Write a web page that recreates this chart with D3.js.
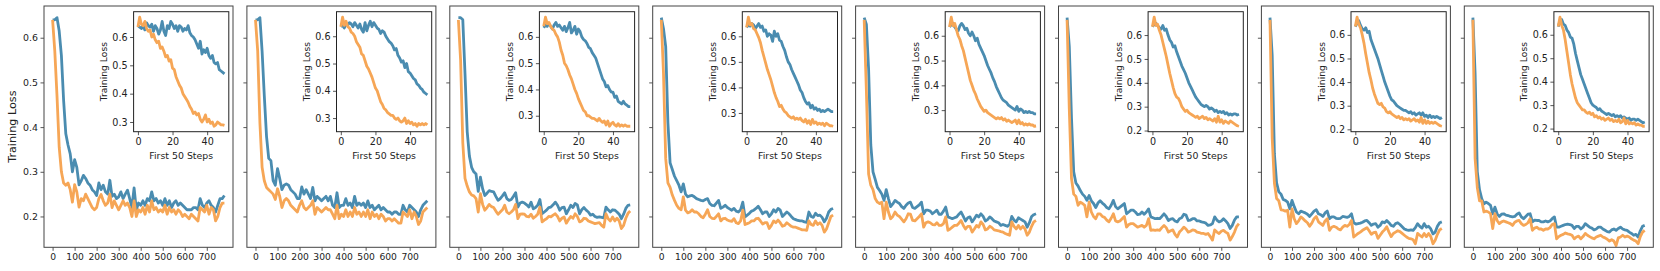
<!DOCTYPE html>
<html>
<head>
<meta charset="utf-8">
<script src="https://cdn.jsdelivr.net/npm/d3@7"></script>
<style>
  body { margin: 0; background: #fff; }
  text { font-family: "DejaVu Sans", sans-serif; fill: #222; }
</style>
</head>
<body>
<div id="chart"></div>
<script>
// logged every 10 steps, 0..780
var mainSteps = d3.range(0, 781, 10);
// first 50 steps, every step
var insetSteps = d3.range(0, 51);

var mainBlue1 = [0.64,0.64,0.645,0.615,0.56,0.46,0.385,0.36,0.34,0.30,
  0.327,0.31,0.271,0.28,0.292,0.285,0.275,0.27,0.26,0.255,
  0.247,0.275,0.26,0.27,0.255,0.25,0.281,0.245,0.25,0.24,
  0.244,0.255,0.24,0.25,0.259,0.24,0.22,0.264,0.215,0.23,
  0.225,0.235,0.225,0.24,0.235,0.255,0.235,0.24,0.23,0.235,
  0.225,0.24,0.225,0.235,0.22,0.23,0.235,0.225,0.23,0.225,
  0.22,0.215,0.215,0.215,0.22,0.22,0.215,0.24,0.225,0.22,
  0.23,0.235,0.225,0.22,0.21,0.225,0.24,0.24,0.247];
var mainOrange1 = [0.64,0.57,0.47,0.355,0.30,0.275,0.27,0.275,0.26,0.232,
  0.271,0.255,0.221,0.24,0.235,0.25,0.24,0.23,0.22,0.215,
  0.22,0.24,0.249,0.235,0.225,0.23,0.25,0.22,0.235,0.225,
  0.215,0.225,0.235,0.225,0.23,0.22,0.2,0.235,0.2,0.215,
  0.21,0.22,0.205,0.225,0.21,0.235,0.215,0.22,0.21,0.215,
  0.21,0.225,0.205,0.22,0.21,0.215,0.205,0.215,0.21,0.2,
  0.205,0.2,0.195,0.205,0.2,0.195,0.19,0.22,0.215,0.21,
  0.225,0.205,0.22,0.215,0.19,0.2,0.22,0.23,0.23];

var mainBlue2 = [0.64,0.64,0.645,0.57,0.47,0.38,0.33,0.325,0.28,0.27,
  0.307,0.285,0.26,0.27,0.273,0.27,0.26,0.255,0.25,0.24,
  0.24,0.266,0.25,0.26,0.25,0.24,0.265,0.235,0.245,0.24,
  0.235,0.24,0.245,0.235,0.245,0.225,0.22,0.253,0.22,0.225,
  0.225,0.24,0.225,0.23,0.22,0.245,0.225,0.23,0.225,0.23,
  0.22,0.235,0.22,0.225,0.215,0.22,0.225,0.215,0.22,0.215,
  0.21,0.21,0.205,0.21,0.21,0.205,0.205,0.225,0.215,0.21,
  0.225,0.22,0.215,0.21,0.2,0.215,0.225,0.23,0.235];
var mainOrange2 = [0.64,0.57,0.41,0.31,0.28,0.265,0.26,0.255,0.25,0.238,
  0.262,0.245,0.22,0.235,0.24,0.235,0.225,0.22,0.215,0.21,
  0.225,0.235,0.22,0.215,0.22,0.225,0.235,0.205,0.22,0.215,
  0.21,0.215,0.22,0.215,0.215,0.205,0.195,0.225,0.195,0.205,
  0.2,0.215,0.2,0.21,0.2,0.22,0.205,0.21,0.2,0.21,
  0.2,0.215,0.195,0.21,0.2,0.205,0.195,0.205,0.2,0.19,
  0.195,0.195,0.19,0.195,0.19,0.185,0.185,0.21,0.205,0.2,
  0.215,0.195,0.21,0.2,0.182,0.19,0.21,0.215,0.22];

var mainBlue3 = [0.645,0.645,0.64,0.52,0.39,0.335,0.31,0.30,0.295,0.256,
  0.288,0.262,0.247,0.252,0.258,0.256,0.255,0.245,0.236,0.24,
  0.246,0.253,0.24,0.236,0.238,0.245,0.253,0.221,0.23,0.232,
  0.23,0.226,0.221,0.232,0.217,0.22,0.225,0.238,0.206,0.21,
  0.214,0.22,0.221,0.226,0.232,0.225,0.214,0.22,0.221,0.206,
  0.215,0.225,0.22,0.229,0.226,0.206,0.215,0.22,0.214,0.21,
  0.203,0.205,0.2,0.198,0.199,0.198,0.197,0.221,0.215,0.21,
  0.215,0.214,0.21,0.205,0.195,0.205,0.218,0.225,0.226];
var mainOrange3 = [0.64,0.55,0.365,0.285,0.268,0.255,0.248,0.246,0.24,0.21,
  0.251,0.227,0.214,0.22,0.227,0.222,0.22,0.212,0.205,0.21,
  0.215,0.225,0.21,0.206,0.21,0.215,0.227,0.195,0.205,0.206,
  0.205,0.2,0.199,0.205,0.196,0.2,0.205,0.221,0.188,0.192,
  0.195,0.2,0.199,0.203,0.206,0.2,0.19,0.196,0.199,0.185,
  0.193,0.2,0.196,0.206,0.2,0.188,0.19,0.196,0.195,0.19,
  0.188,0.186,0.184,0.185,0.186,0.18,0.176,0.206,0.195,0.19,
  0.199,0.19,0.196,0.19,0.173,0.18,0.196,0.207,0.212];

var mainBlue4 = [0.645,0.62,0.58,0.41,0.32,0.305,0.29,0.28,0.27,0.255,
  0.273,0.25,0.244,0.246,0.247,0.244,0.24,0.238,0.236,0.235,
  0.238,0.24,0.229,0.225,0.224,0.23,0.236,0.218,0.221,0.225,
  0.22,0.217,0.214,0.218,0.212,0.21,0.215,0.232,0.199,0.203,
  0.207,0.212,0.214,0.218,0.223,0.215,0.206,0.21,0.21,0.2,
  0.206,0.215,0.21,0.218,0.214,0.2,0.205,0.21,0.206,0.2,
  0.195,0.193,0.191,0.19,0.19,0.188,0.187,0.21,0.2,0.198,
  0.207,0.202,0.203,0.198,0.188,0.196,0.21,0.216,0.218];
var mainOrange4 = [0.64,0.52,0.33,0.275,0.265,0.248,0.236,0.225,0.218,0.215,
  0.244,0.214,0.208,0.21,0.215,0.21,0.21,0.206,0.2,0.197,
  0.205,0.215,0.2,0.196,0.195,0.2,0.206,0.19,0.195,0.196,
  0.192,0.19,0.189,0.195,0.186,0.184,0.19,0.214,0.182,0.184,
  0.186,0.19,0.19,0.195,0.196,0.19,0.183,0.186,0.186,0.173,
  0.18,0.19,0.186,0.192,0.186,0.178,0.18,0.186,0.182,0.178,
  0.176,0.176,0.174,0.172,0.17,0.17,0.169,0.19,0.182,0.18,
  0.19,0.182,0.186,0.18,0.165,0.172,0.186,0.2,0.203];

var mainBlue5 = [0.645,0.63,0.53,0.36,0.30,0.283,0.265,0.258,0.25,0.236,
  0.26,0.24,0.222,0.228,0.236,0.232,0.229,0.222,0.218,0.225,
  0.23,0.232,0.22,0.218,0.222,0.226,0.232,0.206,0.214,0.214,
  0.212,0.206,0.21,0.214,0.205,0.205,0.212,0.221,0.199,0.197,
  0.195,0.197,0.199,0.205,0.21,0.2,0.19,0.197,0.199,0.188,
  0.195,0.203,0.199,0.206,0.2,0.19,0.193,0.199,0.195,0.19,
  0.188,0.186,0.18,0.182,0.18,0.178,0.182,0.2,0.192,0.188,
  0.197,0.194,0.191,0.188,0.176,0.186,0.2,0.204,0.206];
var mainOrange5 = [0.64,0.48,0.295,0.27,0.26,0.24,0.232,0.229,0.232,0.195,
  0.232,0.21,0.195,0.2,0.21,0.203,0.2,0.194,0.188,0.195,
  0.206,0.205,0.191,0.19,0.195,0.2,0.206,0.176,0.186,0.188,
  0.186,0.182,0.181,0.186,0.18,0.18,0.184,0.199,0.169,0.172,
  0.176,0.18,0.18,0.185,0.191,0.18,0.172,0.178,0.178,0.165,
  0.172,0.18,0.176,0.188,0.182,0.17,0.172,0.178,0.175,0.17,
  0.169,0.168,0.166,0.165,0.162,0.16,0.158,0.188,0.178,0.172,
  0.18,0.172,0.178,0.172,0.158,0.165,0.178,0.188,0.191];

var mainBlue6 = [0.645,0.58,0.42,0.30,0.275,0.268,0.258,0.25,0.245,0.236,
  0.247,0.235,0.229,0.22,0.23,0.235,0.23,0.226,0.22,0.217,
  0.225,0.236,0.222,0.217,0.221,0.225,0.229,0.206,0.21,0.214,
  0.214,0.21,0.204,0.205,0.21,0.205,0.21,0.217,0.199,0.197,
  0.195,0.196,0.195,0.2,0.206,0.2,0.191,0.194,0.195,0.19,
  0.188,0.195,0.197,0.205,0.203,0.191,0.192,0.195,0.195,0.19,
  0.19,0.188,0.187,0.185,0.18,0.181,0.184,0.199,0.192,0.188,
  0.19,0.195,0.19,0.184,0.173,0.18,0.192,0.199,0.199];
var mainOrange6 = [0.64,0.44,0.285,0.25,0.245,0.225,0.232,0.229,0.225,0.199,
  0.232,0.21,0.2,0.195,0.206,0.206,0.2,0.198,0.192,0.188,
  0.196,0.206,0.19,0.188,0.19,0.195,0.2,0.176,0.182,0.184,
  0.184,0.18,0.176,0.178,0.18,0.176,0.18,0.195,0.169,0.17,
  0.169,0.17,0.169,0.175,0.18,0.175,0.165,0.168,0.17,0.16,
  0.154,0.165,0.17,0.176,0.172,0.165,0.167,0.17,0.169,0.165,
  0.164,0.162,0.162,0.16,0.162,0.155,0.147,0.17,0.165,0.162,
  0.167,0.169,0.165,0.162,0.147,0.155,0.165,0.178,0.184];

var mainBlue7 = [0.645,0.56,0.34,0.275,0.255,0.25,0.238,0.236,0.232,0.217,
  0.236,0.222,0.21,0.206,0.212,0.21,0.208,0.205,0.2,0.206,
  0.212,0.215,0.206,0.204,0.2,0.208,0.212,0.195,0.199,0.199,
  0.196,0.195,0.196,0.2,0.199,0.198,0.2,0.206,0.186,0.183,
  0.184,0.185,0.187,0.19,0.191,0.186,0.18,0.183,0.184,0.176,
  0.18,0.188,0.186,0.191,0.186,0.18,0.178,0.184,0.186,0.182,
  0.177,0.172,0.17,0.169,0.17,0.169,0.175,0.184,0.178,0.174,
  0.184,0.176,0.178,0.172,0.161,0.165,0.178,0.186,0.188];
var mainOrange7 = [0.64,0.375,0.275,0.24,0.235,0.215,0.214,0.212,0.214,0.176,
  0.217,0.195,0.184,0.19,0.199,0.195,0.19,0.186,0.178,0.185,
  0.195,0.2,0.188,0.184,0.18,0.19,0.195,0.169,0.176,0.178,
  0.176,0.172,0.17,0.176,0.18,0.178,0.182,0.191,0.154,0.158,
  0.162,0.165,0.169,0.172,0.175,0.168,0.16,0.164,0.165,0.151,
  0.158,0.165,0.17,0.177,0.165,0.155,0.162,0.165,0.168,0.166,
  0.162,0.158,0.154,0.151,0.15,0.148,0.139,0.162,0.158,0.154,
  0.162,0.155,0.162,0.155,0.139,0.147,0.16,0.17,0.173];

var mainBlue8 = [0.645,0.52,0.30,0.26,0.24,0.228,0.232,0.229,0.225,0.206,
  0.221,0.206,0.2,0.205,0.206,0.203,0.202,0.2,0.199,0.2,
  0.205,0.208,0.199,0.195,0.2,0.205,0.206,0.188,0.192,0.191,
  0.191,0.188,0.188,0.19,0.188,0.19,0.195,0.199,0.176,0.176,
  0.178,0.18,0.182,0.183,0.182,0.18,0.173,0.178,0.178,0.172,
  0.176,0.184,0.18,0.176,0.174,0.17,0.172,0.176,0.176,0.172,
  0.169,0.166,0.165,0.17,0.172,0.169,0.173,0.176,0.172,0.17,
  0.169,0.165,0.162,0.158,0.16,0.154,0.168,0.178,0.18];
var mainOrange8 = [0.64,0.33,0.265,0.235,0.235,0.21,0.212,0.21,0.206,0.173,
  0.206,0.191,0.184,0.188,0.19,0.188,0.186,0.184,0.18,0.187,
  0.19,0.191,0.184,0.18,0.182,0.186,0.195,0.169,0.174,0.176,
  0.172,0.172,0.169,0.172,0.172,0.175,0.182,0.184,0.15,0.155,
  0.158,0.16,0.163,0.161,0.16,0.158,0.15,0.154,0.156,0.15,
  0.155,0.162,0.158,0.155,0.152,0.15,0.154,0.156,0.158,0.154,
  0.152,0.149,0.145,0.148,0.145,0.135,0.152,0.154,0.158,0.154,
  0.156,0.154,0.15,0.147,0.145,0.139,0.155,0.165,0.169];

var insetBlue1 = [0.64,0.635,0.63,0.64,0.625,0.65,0.64,0.635,0.645,0.62,
  0.64,0.63,0.61,0.625,0.655,0.62,0.605,0.64,0.63,0.655,
  0.645,0.63,0.64,0.62,0.64,0.635,0.62,0.63,0.625,0.64,
  0.615,0.605,0.6,0.59,0.575,0.56,0.585,0.54,0.555,0.545,
  0.56,0.535,0.525,0.535,0.51,0.505,0.51,0.485,0.48,0.475,0.47];
var insetOrange1 = [0.635,0.67,0.645,0.64,0.655,0.63,0.62,0.625,0.6,0.61,
  0.59,0.58,0.585,0.56,0.565,0.55,0.53,0.535,0.515,0.52,
  0.49,0.485,0.46,0.445,0.43,0.42,0.4,0.39,0.38,0.37,
  0.355,0.345,0.33,0.335,0.325,0.33,0.31,0.3,0.31,0.325,
  0.3,0.31,0.295,0.3,0.285,0.29,0.3,0.295,0.29,0.29,0.288];

var insetBlue2 = [0.635,0.64,0.63,0.645,0.64,0.65,0.645,0.635,0.65,0.64,
  0.63,0.645,0.625,0.615,0.65,0.62,0.64,0.655,0.635,0.65,
  0.64,0.63,0.625,0.61,0.62,0.615,0.6,0.59,0.58,0.575,
  0.565,0.55,0.555,0.53,0.52,0.505,0.51,0.485,0.5,0.47,
  0.465,0.455,0.445,0.44,0.425,0.42,0.41,0.405,0.395,0.39,0.385];
var insetOrange2 = [0.635,0.67,0.64,0.655,0.635,0.63,0.615,0.61,0.6,0.58,
  0.57,0.56,0.535,0.53,0.51,0.49,0.48,0.465,0.45,0.43,
  0.41,0.4,0.38,0.36,0.35,0.335,0.33,0.32,0.315,0.31,
  0.31,0.3,0.295,0.3,0.29,0.285,0.29,0.3,0.28,0.29,
  0.28,0.285,0.275,0.28,0.27,0.28,0.275,0.28,0.275,0.28,0.275];

var insetBlue3 = [0.635,0.645,0.64,0.65,0.64,0.63,0.645,0.655,0.64,0.645,
  0.635,0.625,0.64,0.62,0.635,0.655,0.615,0.625,0.64,0.61,
  0.63,0.62,0.6,0.59,0.585,0.575,0.56,0.555,0.54,0.53,
  0.52,0.5,0.48,0.46,0.44,0.43,0.41,0.415,0.4,0.39,
  0.39,0.37,0.375,0.355,0.35,0.345,0.355,0.345,0.34,0.335,0.335];
var insetOrange3 = [0.64,0.675,0.65,0.655,0.64,0.63,0.625,0.61,0.6,0.58,
  0.55,0.53,0.5,0.49,0.475,0.455,0.44,0.42,0.4,0.385,
  0.365,0.35,0.335,0.32,0.315,0.3,0.3,0.295,0.29,0.29,
  0.285,0.28,0.29,0.28,0.275,0.28,0.265,0.28,0.26,0.27,
  0.275,0.265,0.26,0.27,0.26,0.265,0.26,0.265,0.26,0.26,0.26];

var insetBlue4 = [0.635,0.645,0.64,0.65,0.645,0.63,0.64,0.65,0.635,0.64,
  0.62,0.625,0.6,0.61,0.605,0.58,0.62,0.6,0.61,0.585,
  0.58,0.56,0.545,0.52,0.5,0.49,0.47,0.455,0.44,0.425,
  0.41,0.39,0.38,0.36,0.345,0.335,0.34,0.32,0.33,0.315,
  0.32,0.31,0.315,0.305,0.31,0.305,0.31,0.315,0.31,0.305,0.305];
var insetOrange4 = [0.635,0.675,0.645,0.65,0.63,0.625,0.61,0.595,0.575,0.545,
  0.52,0.495,0.47,0.45,0.43,0.405,0.38,0.36,0.345,0.325,
  0.33,0.315,0.305,0.3,0.29,0.285,0.28,0.285,0.275,0.28,
  0.275,0.28,0.27,0.265,0.275,0.26,0.27,0.255,0.275,0.26,
  0.265,0.255,0.26,0.255,0.26,0.25,0.26,0.255,0.25,0.25,0.248];

var insetBlue5 = [0.635,0.645,0.65,0.635,0.625,0.62,0.64,0.65,0.64,0.625,
  0.63,0.61,0.6,0.615,0.6,0.58,0.59,0.565,0.55,0.535,
  0.52,0.5,0.48,0.465,0.45,0.43,0.415,0.395,0.38,0.365,
  0.35,0.34,0.335,0.33,0.32,0.315,0.31,0.305,0.3,0.315,
  0.295,0.305,0.3,0.29,0.295,0.29,0.295,0.29,0.29,0.285,0.285];
var insetOrange5 = [0.635,0.675,0.64,0.65,0.625,0.6,0.585,0.56,0.54,0.51,
  0.48,0.45,0.42,0.4,0.38,0.365,0.345,0.33,0.315,0.305,
  0.295,0.3,0.29,0.285,0.28,0.275,0.27,0.265,0.27,0.265,
  0.27,0.26,0.265,0.255,0.26,0.255,0.25,0.255,0.26,0.245,
  0.26,0.245,0.25,0.24,0.245,0.24,0.245,0.24,0.24,0.235,0.236];

var insetBlue6 = [0.635,0.645,0.65,0.64,0.63,0.625,0.64,0.62,0.625,0.6,
  0.58,0.57,0.55,0.555,0.53,0.51,0.49,0.47,0.455,0.44,
  0.42,0.4,0.385,0.37,0.355,0.34,0.33,0.32,0.31,0.305,
  0.3,0.305,0.3,0.29,0.295,0.29,0.28,0.285,0.275,0.28,
  0.275,0.28,0.27,0.275,0.265,0.27,0.265,0.27,0.27,0.265,0.268];
var insetOrange6 = [0.635,0.675,0.64,0.645,0.62,0.6,0.57,0.54,0.51,0.475,
  0.44,0.41,0.38,0.355,0.34,0.335,0.32,0.3,0.29,0.28,
  0.285,0.275,0.27,0.265,0.26,0.255,0.26,0.25,0.255,0.26,
  0.25,0.255,0.245,0.25,0.245,0.24,0.25,0.235,0.26,0.235,
  0.245,0.23,0.24,0.235,0.23,0.24,0.235,0.23,0.225,0.22,0.218];

var insetBlue7 = [0.635,0.65,0.66,0.64,0.625,0.62,0.63,0.61,0.615,0.58,
  0.56,0.54,0.52,0.5,0.475,0.45,0.425,0.4,0.38,0.36,
  0.34,0.325,0.32,0.31,0.3,0.295,0.29,0.285,0.28,0.28,
  0.275,0.27,0.275,0.265,0.27,0.26,0.265,0.27,0.26,0.27,
  0.255,0.26,0.25,0.26,0.25,0.255,0.25,0.255,0.25,0.245,0.25];
var insetOrange7 = [0.635,0.675,0.645,0.63,0.6,0.565,0.52,0.48,0.44,0.41,
  0.375,0.35,0.33,0.31,0.305,0.31,0.295,0.29,0.275,0.27,
  0.275,0.265,0.26,0.255,0.25,0.255,0.245,0.25,0.24,0.245,
  0.24,0.245,0.235,0.24,0.245,0.235,0.24,0.23,0.25,0.225,
  0.24,0.225,0.235,0.225,0.23,0.225,0.23,0.225,0.22,0.215,0.213];

var insetBlue8 = [0.635,0.66,0.665,0.645,0.64,0.62,0.61,0.59,0.585,0.56,
  0.52,0.49,0.46,0.43,0.41,0.39,0.37,0.35,0.33,0.31,
  0.3,0.295,0.29,0.28,0.285,0.275,0.27,0.265,0.26,0.265,
  0.26,0.255,0.26,0.25,0.255,0.25,0.255,0.245,0.25,0.245,
  0.24,0.245,0.235,0.24,0.24,0.235,0.24,0.235,0.23,0.225,0.228];
var insetOrange8 = [0.635,0.675,0.64,0.62,0.58,0.53,0.48,0.43,0.39,0.36,
  0.33,0.31,0.3,0.29,0.28,0.28,0.27,0.265,0.27,0.26,
  0.265,0.25,0.255,0.245,0.25,0.24,0.245,0.235,0.24,0.245,
  0.235,0.24,0.23,0.235,0.23,0.24,0.225,0.23,0.245,0.22,
  0.235,0.22,0.225,0.22,0.225,0.215,0.22,0.215,0.215,0.21,0.21];

var mainXTicks = [0, 100, 200, 300, 400, 500, 600, 700];
var mainYTicks = [0.2, 0.3, 0.4, 0.5, 0.6];
var insetXTicks = [0, 20, 40];

var panels = [
  { blue: mainBlue1, orange: mainOrange1, iBlue: insetBlue1, iOrange: insetOrange1 },
  { blue: mainBlue2, orange: mainOrange2, iBlue: insetBlue2, iOrange: insetOrange2 },
  { blue: mainBlue3, orange: mainOrange3, iBlue: insetBlue3, iOrange: insetOrange3 },
  { blue: mainBlue4, orange: mainOrange4, iBlue: insetBlue4, iOrange: insetOrange4 },
  { blue: mainBlue5, orange: mainOrange5, iBlue: insetBlue5, iOrange: insetOrange5 },
  { blue: mainBlue6, orange: mainOrange6, iBlue: insetBlue6, iOrange: insetOrange6 },
  { blue: mainBlue7, orange: mainOrange7, iBlue: insetBlue7, iOrange: insetOrange7 },
  { blue: mainBlue8, orange: mainOrange8, iBlue: insetBlue8, iOrange: insetOrange8 }
];

var W = 1660, H = 271,
  panelLeft = 44, panelStep = 202.9, panelW = 189,
  panelTop = 6, panelH = 241.3,
  insetDx = 89.6, insetDy = 5.7, insetW = 95.2, insetH = 120,
  blueColor = "#4a8cb0", orangeColor = "#f6a656", frameColor = "#444";

var svg = d3.select("#chart").append("svg")
  .attr("width", W).attr("height", H);
svg.append("rect").attr("width", W).attr("height", H).attr("fill", "#fff");

// shared axes for all main panels
var yMain = d3.scaleLinear().domain([0.131, 0.671]).range([panelTop + panelH, panelTop]);

function styleAxis(g, size) {
  g.select(".domain").remove();
  g.selectAll(".tick line").attr("stroke", frameColor).attr("stroke-width", 0.9);
  g.selectAll(".tick text").attr("fill", "#222")
    .style("font-family", "DejaVu Sans").style("font-size", size + "px");
}

function drawLine(g, xs, ys, steps, values, color) {
  var line = d3.line()
    .x(function(d, i) { return xs(steps[i]); })
    .y(function(d) { return ys(d); });
  g.append("path")
    .datum(values)
    .attr("d", line)
    .attr("fill", "none")
    .attr("stroke", color)
    .attr("stroke-width", 2.8)
    .attr("stroke-linejoin", "round")
    .attr("stroke-linecap", "butt");
}

panels.forEach(function(p, k) {
  var x0 = panelLeft + k * panelStep;
  var g = svg.append("g");
  var xMain = d3.scaleLinear().domain([-39, 819]).range([x0, x0 + panelW]);

  g.append("g")
    .attr("transform", "translate(0," + (panelTop + panelH) + ")")
    .call(d3.axisBottom(xMain).tickValues(mainXTicks).tickSize(3.5).tickPadding(2.5))
    .call(styleAxis, 9.2);

  if (k === 0) {
    g.append("g")
      .attr("transform", "translate(" + x0 + ",0)")
      .call(d3.axisLeft(yMain).tickValues(mainYTicks).tickFormat(d3.format(".1f")).tickSize(3.5).tickPadding(2.5))
      .call(styleAxis, 9.4);
    g.append("text")
      .attr("transform", "translate(12.5," + (panelTop + panelH / 2) + ") rotate(-90)")
      .attr("text-anchor", "middle")
      .attr("dominant-baseline", "central")
      .style("font-size", "11.2px")
      .text("Training Loss");
  } else {
    g.append("g")
      .attr("transform", "translate(" + x0 + ",0)")
      .call(d3.axisLeft(yMain).tickValues(mainYTicks).tickFormat("").tickSize(3.5))
      .call(styleAxis, 9);
  }

  drawLine(g, xMain, yMain, mainSteps, p.blue, blueColor);
  drawLine(g, xMain, yMain, mainSteps, p.orange, orangeColor);

  g.append("rect")
    .attr("x", x0).attr("y", panelTop)
    .attr("width", panelW).attr("height", panelH)
    .attr("fill", "none").attr("stroke", frameColor).attr("stroke-width", 1);

  // inset: first 50 steps
  var ix = x0 + insetDx, iy = panelTop + insetDy;
  var ig = g.append("g");
  ig.append("rect")
    .attr("x", ix).attr("y", iy).attr("width", insetW).attr("height", insetH)
    .attr("fill", "#fff");

  var ext = d3.extent(p.iBlue.concat(p.iOrange));
  var pad = (ext[1] - ext[0]) * 0.05;
  var yIn = d3.scaleLinear().domain([ext[0] - pad, ext[1] + pad]).range([iy + insetH, iy]);
  var xIn = d3.scaleLinear().domain([-2.5, 52.5]).range([ix, ix + insetW]);
  var yInTicks = d3.range(0.2, 0.71, 0.1).filter(function(v) {
    return v >= yIn.domain()[0] && v <= yIn.domain()[1];
  });

  ig.append("g")
    .attr("transform", "translate(0," + (iy + insetH) + ")")
    .call(d3.axisBottom(xIn).tickValues(insetXTicks).tickSize(3.5).tickPadding(2.5))
    .call(styleAxis, 9.6);
  ig.append("g")
    .attr("transform", "translate(" + ix + ",0)")
    .call(d3.axisLeft(yIn).tickValues(yInTicks).tickFormat(d3.format(".1f")).tickSize(3.5).tickPadding(2.5))
    .call(styleAxis, 9.6);

  drawLine(ig, xIn, yIn, insetSteps, p.iBlue, blueColor);
  drawLine(ig, xIn, yIn, insetSteps, p.iOrange, orangeColor);

  ig.append("rect")
    .attr("x", ix).attr("y", iy).attr("width", insetW).attr("height", insetH)
    .attr("fill", "none").attr("stroke", "#222").attr("stroke-width", 1);

  ig.append("text")
    .attr("x", ix + insetW / 2).attr("y", iy + insetH + 24)
    .attr("text-anchor", "middle")
    .attr("dominant-baseline", "central")
    .style("font-size", "9.4px")
    .text("First 50 Steps");
  ig.append("text")
    .attr("transform", "translate(" + (ix - 30) + "," + (iy + insetH / 2) + ") rotate(-90)")
    .attr("text-anchor", "middle")
    .attr("dominant-baseline", "central")
    .style("font-size", "9.2px")
    .text("Training Loss");
});
</script>
</body>
</html>
